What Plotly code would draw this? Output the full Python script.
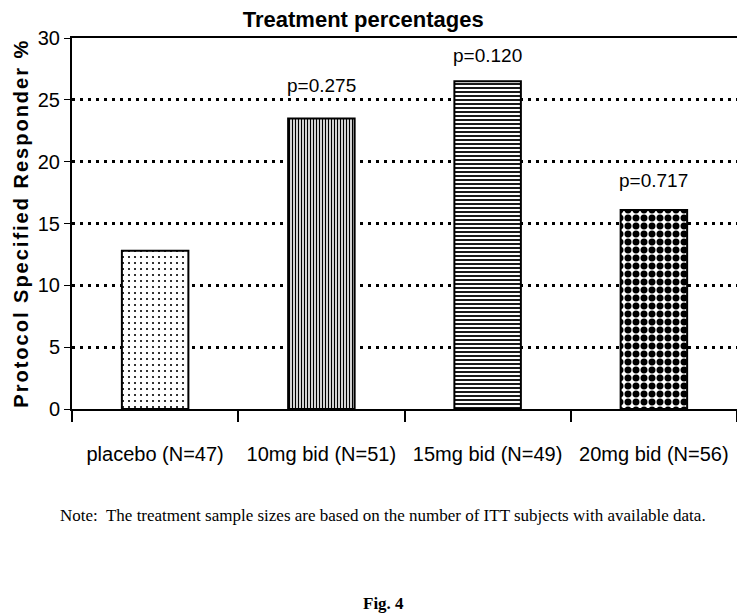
import plotly.graph_objects as go

# data
groups = ["placebo (N=47)", "10mg bid (N=51)", "15mg bid (N=49)", "20mg bid (N=56)"]
responders = [12.8, 23.5, 26.5, 16.1]
p_values = ["", "p=0.275", "p=0.120", "p=0.717"]
y_ticks = [0, 5, 10, 15, 20, 25, 30]

# fill patterns, one per bar (dots, vertical, horizontal, big dots)
shapes = [".", "|", "-", "."]
sizes = [6, 3, 4, 8]
solid = [0.1, 0.45, 0.45, 0.6]
label_shift = [0, 20, 13, 17]

SANS = "Liberation Sans, Arial, sans-serif"
SERIF = "Liberation Serif, Times New Roman, serif"

fig = go.Figure()
fig.add_trace(
    go.Bar(
        x=groups,
        y=responders,
        width=0.4,
        marker=dict(
            color="white",
            line=dict(color="black", width=2),
            pattern=dict(
                shape=shapes,
                size=sizes,
                solidity=solid,
                fgcolor="black",
                bgcolor="white",
                fgopacity=1,
                fillmode="replace",
            ),
        ),
        showlegend=False,
    )
)

# p-value labels above the treatment bars
for g, v, p, s in zip(groups, responders, p_values, label_shift):
    if not p:
        continue
    fig.add_annotation(
        x=g, y=v, text=p, showarrow=False, yanchor="bottom", yshift=s,
        font=dict(family=SANS, size=19, color="black"),
    )

# y axis title drawn by hand so it sits at the far left
fig.add_annotation(
    xref="paper", yref="paper", x=-0.078, y=0.5, textangle=-90,
    xanchor="center", yanchor="middle",
    text='<span style="letter-spacing:2px"><b>Protocol Specified Responder %</b></span>',
    showarrow=False,
    font=dict(family=SANS, size=20, color="black"),
)
fig.add_annotation(
    xref="paper", yref="paper", x=0.468, y=-0.288,
    xanchor="center", yanchor="middle",
    text="Note:\u00a0 The treatment sample sizes are based on the number of ITT subjects with available data.",
    showarrow=False, font=dict(family=SERIF, size=17, color="black"),
)
fig.add_annotation(
    xref="paper", yref="paper", x=0.468, y=-0.523,
    xanchor="center", yanchor="middle",
    text="<b>Fig. 4</b>", showarrow=False,
    font=dict(family=SERIF, size=17, color="black"),
)

fig.update_xaxes(
    type="category",
    tickson="boundaries",
    ticks="outside",
    ticklen=11,
    tickwidth=1.5,
    tickcolor="black",
    ticklabelstandoff=26,
    showline=True,
    linecolor="black",
    linewidth=2,
    mirror=True,
    showgrid=False,
    tickfont=dict(family=SANS, size=20, color="black"),
)
fig.update_yaxes(
    range=[0, 30],
    tickvals=y_ticks,
    ticks="outside",
    ticklen=6,
    tickcolor="black",
    showline=True,
    linecolor="black",
    linewidth=2,
    mirror=True,
    showgrid=True,
    gridcolor="black",
    gridwidth=2.5,
    griddash="3px,5px",
    zeroline=False,
    tickfont=dict(family=SANS, size=20, color="black"),
)
# page body adds an 8px offset, so the figure is a little smaller than the window
fig.update_layout(
    width=737,
    height=607,
    margin=dict(l=64, r=6, t=30, b=206),
    paper_bgcolor="white",
    plot_bgcolor="white",
    title=dict(
        text="<b>Treatment percentages</b>",
        x=0.482, xanchor="center",
        y=1, yanchor="top",
        pad=dict(t=4),
        font=dict(family=SANS, size=22, color="black"),
    ),
)

fig.write_html("out.html")
